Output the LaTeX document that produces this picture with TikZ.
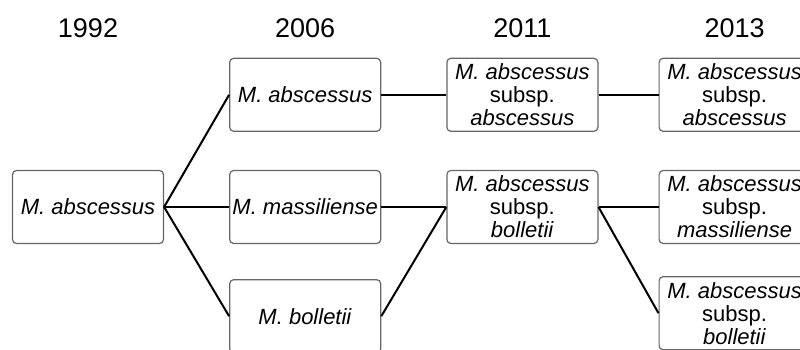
\documentclass[tikz,border=0pt]{standalone}
\usepackage{fontspec}
\setmainfont{Liberation Sans}
\usetikzlibrary{positioning}

\begin{document}
\begin{tikzpicture}[x=0.5pt, y=0.5pt, node distance=19pt and 32.5pt,
		box/.style={draw=gray!80!black, line width=0.6pt, rounded corners=2pt, minimum width=75.5pt, minimum height=36.5pt, inner sep=0pt, align=center, font=\fontsize{11}{11.5}\selectfont},
		year/.style={inner sep=0pt, font=\fontsize{13.5}{16}\selectfont},
		link/.style={line width=1pt}]
			\useasboundingbox (0,0) rectangle (800,349);
			\node[box] (a) at (88,142) {\textit{M. abscessus}};
			\node[box, right =of a] (b2) {\textit{M. massiliense}};
				\node[box, above =of b2] (b1) {\textit{M. abscessus}};
				\node[box, below =17.5pt of b2] (b3) {\textit{M. bolletii}};
			\node[box, right =of b2] (c2) {\textit{M. abscessus}\\subsp.\\\textit{bolletii}};
				\node[box, above =of c2] (c1) {\textit{M. abscessus}\\subsp.\\\textit{abscessus}};
			\node[box, right =30pt of c2] (d2) {\textit{M. abscessus}\\subsp.\\\textit{massiliense}};
				\node[box, above =of d2] (d1) {\textit{M. abscessus}\\subsp.\\\textit{abscessus}};
				\node[box, below =16pt of d2] (d3) {\textit{M. abscessus}\\subsp.\\\textit{bolletii}};
			\node[year, above =10pt of b1] (y2006) {2006};
			\node[year] (y1992) at (a |- y2006) {1992};
			\node[year] (y2011) at (c1 |- y2006) {2011};
			\node[year] (y2013) at (d1 |- y2006) {2013};
			\foreach \from/\to in {a/b1,a/b2,a/b3,b1/c1,b2/c2,b3/c2,c1/d1,c2/d2,c2/d3}
				\draw[link] (\from.east) -- (\to.west);
		\end{tikzpicture}
\end{document}
